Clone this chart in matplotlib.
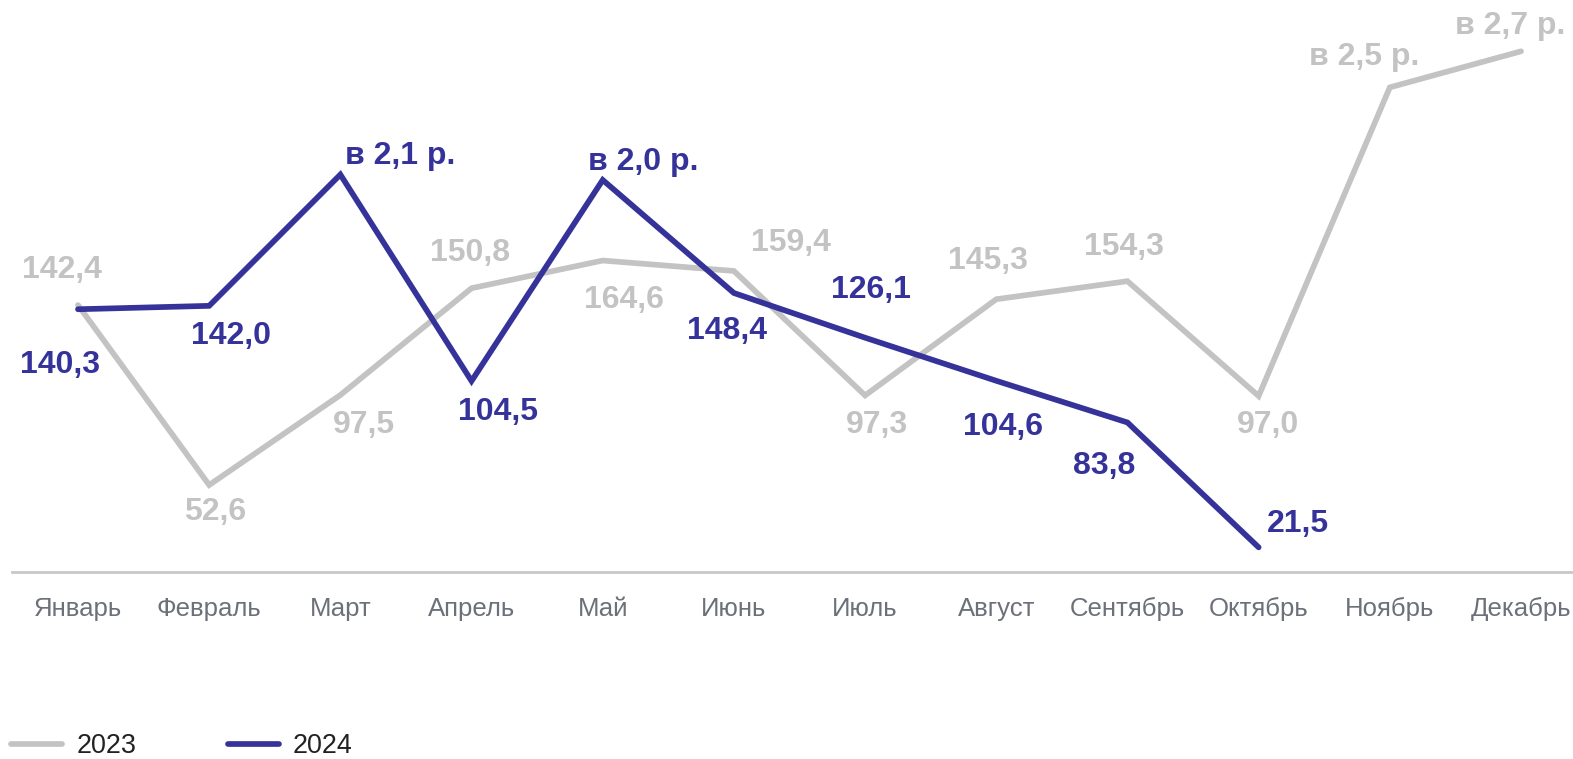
import matplotlib
matplotlib.use("Agg")
import matplotlib.pyplot as plt

plt.rcParams['font.family'] = ['Liberation Sans', 'DejaVu Sans']

months = ["Январь", "Февраль", "Март", "Апрель", "Май", "Июнь", "Июль",
          "Август", "Сентябрь", "Октябрь", "Ноябрь", "Декабрь"]
values_2023 = [142.4, 52.6, 97.5, 150.8, 164.6, 159.4, 97.3, 145.3, 154.3, 97.0, 251.0, 269.0]
labels_2023 = ["142,4", "52,6", "97,5", "150,8", "164,6", "159,4", "97,3", "145,3",
               "154,3", "97,0", "в 2,5 р.", "в 2,7 р."]
values_2024 = [140.3, 142.0, 207.5, 104.5, 204.8, 148.4, 126.1, 104.6, 83.8, 21.5]
labels_2024 = ["140,3", "142,0", "в 2,1 р.", "104,5", "в 2,0 р.", "148,4", "126,1",
               "104,6", "83,8", "21,5"]
series_names = ["2023", "2024"]

# label offsets in pixels (dx, dy), dy positive upward
off_2023 = [(-16, 35), (6, -27), (24, -30), (-1, 35), (21, -39), (57, 28), (12, -30),
            (-8, 38), (-4, 34), (9, -29), (-26, 30), (-11, 25)]
off_2024 = [(-18, -56), (22, -30), (60, 19), (26, -31), (41, 18), (-7, -38), (6, 48),
            (7, -46), (-23, -44), (39, 23)]

c23 = "#C3C3C3"
c24 = "#35339A"

W, H = 1573, 759
fig = plt.figure(figsize=(W / 100, H / 100), dpi=100)
left_px, right_px = 12.4, 1586.6
ax = fig.add_axes([left_px / W, (H - 572) / H, (right_px - left_px) / W, 572 / H])

x23 = list(range(len(values_2023)))
x24 = list(range(len(values_2024)))
l1, = ax.plot(x23, values_2023, color=c23, lw=4.1, solid_joinstyle='miter', solid_capstyle='round', zorder=2)
l2, = ax.plot(x24, values_2024, color=c24, lw=4.1, solid_joinstyle='miter', solid_capstyle='round', zorder=3)

ax.set_xlim(-0.5, 11.5)
ax.set_ylim(9.2, 294.6)

for i, (v, t) in enumerate(zip(values_2023, labels_2023)):
    dx, dy = off_2023[i]
    ax.annotate(t, (i, v), xytext=(dx * 0.72, dy * 0.72), textcoords='offset points',
                ha='center', va='center', fontsize=23, fontweight='bold', color=c23, zorder=4)
for i, (v, t) in enumerate(zip(values_2024, labels_2024)):
    dx, dy = off_2024[i]
    ax.annotate(t, (i, v), xytext=(dx * 0.72, dy * 0.72), textcoords='offset points',
                ha='center', va='center', fontsize=23, fontweight='bold', color=c24, zorder=4)

for s in ['top', 'right', 'left']:
    ax.spines[s].set_visible(False)
ax.spines['bottom'].set_color('#C8C8C8')
ax.spines['bottom'].set_linewidth(2)
ax.set_yticks([])
ax.set_xticks(x23)
ax.set_xticklabels(months, fontsize=18.5, color='#6C7079')
ax.tick_params(axis='x', length=0, pad=18)

leg = fig.legend([l1, l2], series_names, loc='center left', bbox_to_anchor=(11 / W, 13 / H),
                 ncol=2, frameon=False, fontsize=19.4, handlelength=1.9, handletextpad=0.52,
                 columnspacing=3.4, labelcolor='#222222', borderpad=0, borderaxespad=0)

fig.savefig("out.png", dpi=100)
